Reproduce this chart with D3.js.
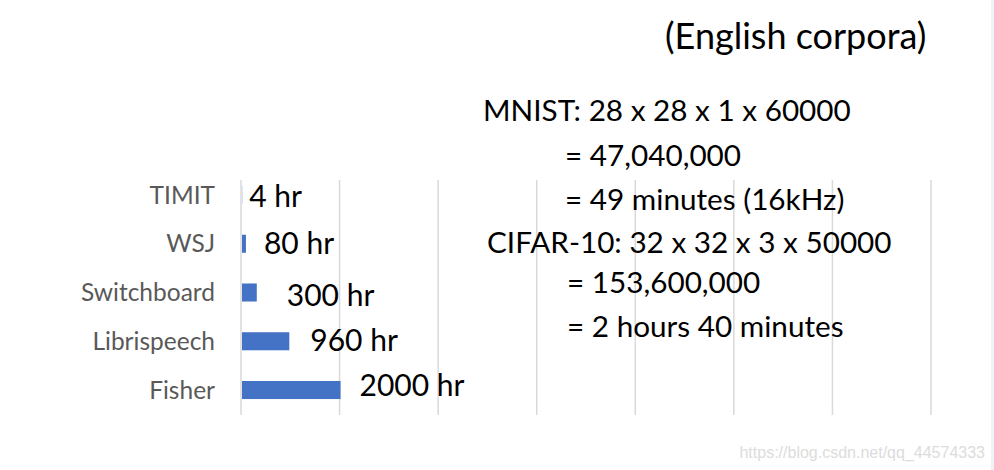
<!DOCTYPE html>
<html>
<head>
<meta charset="utf-8">
<script src="https://cdn.jsdelivr.net/npm/d3@7"></script>
<style>
  body { margin: 0; background: #fff; }
  svg { display: block; }
</style>
</head>
<body>
<svg id="chart" width="994" height="470"></svg>
<script>
// corpora sizes (hours)
const corpora = ['TIMIT', 'WSJ', 'Switchboard', 'Librispeech', 'Fisher'];
const hours = [4, 80, 300, 960, 2000];
const valueLabels = ['4 hr', '80 hr', '300 hr', '960 hr', '2000 hr'];
const ticks = [0, 2000, 4000, 6000, 8000, 10000, 12000, 14000];

// text block on the right
const notes = [
  'MNIST: 28 x 28 x 1 x 60000',
  '= 47,040,000',
  '= 49 minutes (16kHz)',
  'CIFAR-10: 32 x 32 x 3 x 50000',
  '= 153,600,000',
  '= 2 hours 40 minutes'
];
const noteX = [483, 565, 565, 487, 567, 567];
const noteY = [111, 156, 200, 243, 283, 327];

// hand-placed label nudges, like the original slide
const labelDx = [8, 19, 31, 22, 20];
const labelDy = [2, 0, 3, -1, -5];

const svg = d3.select('#chart');
const font = 'Lato, "Open Sans", sans-serif';

const x = d3.scaleLinear()
  .domain([0, 14000])
  .range([241, 931]);

const y = d3.scaleBand()
  .domain(corpora)
  .range([170.6, 414.4])
  .paddingInner(0.63)
  .paddingOuter(0.315);

// faint strip at right edge
svg.append('rect')
  .attr('x', 991).attr('y', 0)
  .attr('width', 3).attr('height', 470)
  .attr('fill', '#eef3fa');

// gridlines (top hidden behind the text box in the original)
svg.append('g')
  .selectAll('line')
  .data(ticks)
  .join('line')
  .attr('x1', d => x(d))
  .attr('x2', d => x(d))
  .attr('y1', 180)
  .attr('y2', 415)
  .attr('stroke', '#d9d9d9')
  .attr('stroke-width', 1.5);

// bars
svg.append('g')
  .selectAll('rect')
  .data(hours)
  .join('rect')
  .attr('x', x(0) + 1)
  .attr('y', (d, i) => y(corpora[i]))
  .attr('width', d => x(d) - x(0))
  .attr('height', y.bandwidth())
  .attr('fill', '#4472c4');

// category labels
svg.append('g')
  .selectAll('text')
  .data(corpora)
  .join('text')
  .attr('x', 215)
  .attr('y', d => y(d) + y.bandwidth() / 2)
  .attr('dy', '0.35em')
  .attr('text-anchor', 'end')
  .attr('font-family', font)
  .attr('font-size', 24.5)
  .attr('fill', '#595959')
  .text(d => d);

// value labels
svg.append('g')
  .selectAll('text')
  .data(hours)
  .join('text')
  .attr('x', (d, i) => x(d) + labelDx[i])
  .attr('y', (d, i) => y(corpora[i]) + y.bandwidth() / 2 + labelDy[i])
  .attr('dy', '0.35em')
  .attr('font-family', font)
  .attr('font-size', 30)
  .attr('fill', '#000')
  .text((d, i) => valueLabels[i]);

// title
svg.append('text')
  .attr('x', 665)
  .attr('y', 36)
  .attr('dy', '0.35em')
  .attr('font-family', font)
  .attr('font-size', 36)
  .attr('fill', '#000')
  .text('(English corpora)');

// notes
svg.append('g')
  .selectAll('text')
  .data(notes)
  .join('text')
  .attr('x', (d, i) => noteX[i])
  .attr('y', (d, i) => noteY[i])
  .attr('dy', '0.35em')
  .attr('font-family', font)
  .attr('font-size', 29.7)
  .attr('fill', '#000')
  .text(d => d);

// watermark
svg.append('text')
  .attr('x', 985)
  .attr('y', 452)
  .attr('dy', '0.35em')
  .attr('text-anchor', 'end')
  .attr('font-family', '"Liberation Sans", Arial, sans-serif')
  .attr('font-size', 16)
  .attr('fill', '#dcdcdc')
  .text('https://blog.csdn.net/qq_44574333');
</script>
</body>
</html>
